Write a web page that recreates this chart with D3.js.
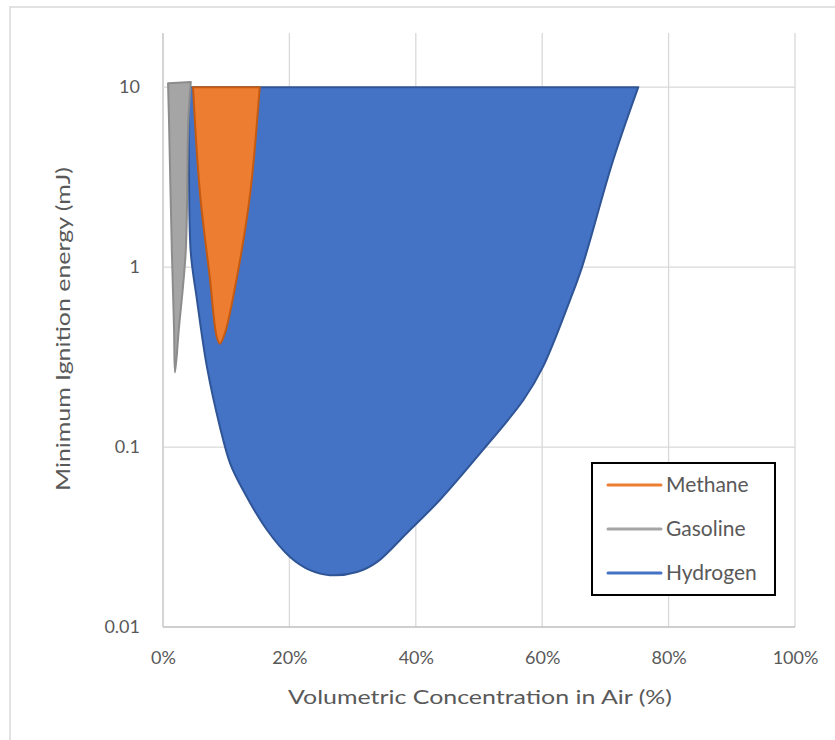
<!DOCTYPE html>
<html>
<head>
<meta charset="utf-8">
<script src="https://cdn.jsdelivr.net/npm/d3@7"></script>
<style>
  html, body { margin: 0; padding: 0; background: #fff; }
  svg { display: block; }
  text { font-family: Lato, "Liberation Sans", sans-serif; fill: #595959; }
</style>
</head>
<body>
<svg id="chart" width="835" height="740"></svg>
<script>
// Flammability envelopes: volumetric fraction in air vs. minimum ignition energy (mJ)
const hydrogenX = [0.040, 0.041, 0.044, 0.0538, 0.0696, 0.0902, 0.106, 0.1266, 0.1646, 0.201, 0.2326, 0.2642, 0.307, 0.339, 0.386, 0.438, 0.506, 0.570, 0.601, 0.644, 0.663, 0.712, 0.752];
const hydrogenY = [10, 3.5, 1.2, 0.656, 0.278, 0.129, 0.0815, 0.0577, 0.0346, 0.0245, 0.0207, 0.0194, 0.0202, 0.0230, 0.0333, 0.0508, 0.0962, 0.182, 0.278, 0.656, 1.0, 3.9, 10];

const gasolineX = [0.008, 0.0095, 0.014, 0.0175, 0.019, 0.025, 0.036, 0.040, 0.044];
const gasolineY = [10.5, 6.5, 1.23, 0.45, 0.26, 0.45, 1.23, 6.5, 10.7];

const methaneX = [0.0475, 0.0585, 0.074, 0.085, 0.090, 0.098, 0.117, 0.138, 0.153];
const methaneY = [10, 2.58, 0.88, 0.41, 0.375, 0.43, 0.88, 2.58, 10];

const xTicks = [0, 0.2, 0.4, 0.6, 0.8, 1.0];
const yTicks = [0.01, 0.1, 1, 10];
const legendNames = ["Methane", "Gasoline", "Hydrogen"];
const legendColors = ["#ED7D31", "#A5A5A5", "#4472C4"];

const svg = d3.select("#chart");
const FONT = 'Lato, "Liberation Sans", sans-serif';

// outer chart frame
svg.append("rect")
  .attr("x", 10).attr("y", 7)
  .attr("width", 840).attr("height", 760)
  .attr("fill", "none").attr("stroke", "#d9d9d9").attr("stroke-width", 1.5);

const x = d3.scaleLinear().domain([0, 1]).range([163, 795]);
const y = d3.scaleLog().domain([0.01, 20]).range([627, 33]);

const grid = svg.append("g");
// vertical gridlines
grid.selectAll("line.vx").data(xTicks).join("line")
  .attr("x1", d => x(d)).attr("x2", d => x(d))
  .attr("y1", y(20)).attr("y2", y(0.01))
  .attr("stroke", d => d === 0 ? "#bfbfbf" : "#d9d9d9").attr("stroke-width", 1.3);
// horizontal gridlines
grid.selectAll("line.hy").data(yTicks).join("line")
  .attr("x1", x(0)).attr("x2", x(1))
  .attr("y1", d => y(d)).attr("y2", d => y(d))
  .attr("stroke", d => d === 0.01 ? "#bfbfbf" : "#d9d9d9").attr("stroke-width", 1.3);

// axes via d3 axis generators (domain and ticks hidden, labels kept)
const xAxis = svg.append("g")
  .attr("transform", `translate(0,${y(0.01)})`)
  .call(d3.axisBottom(x).tickValues(xTicks).tickFormat(d3.format(".0%")).tickSize(0).tickPadding(24));
xAxis.select(".domain").remove();
xAxis.selectAll("text").style("font-size", "18px").style("fill", "#595959").style("font-family", FONT);

const yAxis = svg.append("g")
  .attr("transform", `translate(${x(0)},0)`)
  .call(d3.axisLeft(y).tickValues(yTicks).tickFormat(d => String(d)).tickSize(0).tickPadding(23));
yAxis.select(".domain").remove();
yAxis.selectAll("text").style("font-size", "18px").style("fill", "#595959").style("font-family", FONT);

// area shapes
const shape = (xs, ys) => {
  const pts = xs.map((v, i) => [x(v), y(ys[i])]);
  return d3.line().curve(d3.curveCatmullRom.alpha(0.5))(pts) + "Z";
};

svg.append("path").attr("d", shape(hydrogenX, hydrogenY))
  .attr("fill", "#4472C4").attr("stroke", "#2F5597").attr("stroke-width", 2).attr("stroke-linejoin", "round");
svg.append("path").attr("d", shape(gasolineX, gasolineY))
  .attr("fill", "#A5A5A5").attr("stroke", "#8C8C8C").attr("stroke-width", 2).attr("stroke-linejoin", "round");
svg.append("path").attr("d", shape(methaneX, methaneY))
  .attr("fill", "#ED7D31").attr("stroke", "#C55A11").attr("stroke-width", 2).attr("stroke-linejoin", "round");

// axis titles
svg.append("text")
  .attr("x", 480).attr("y", 704)
  .attr("text-anchor", "middle")
  .style("font-size", "20px")
  .attr("textLength", 384).attr("lengthAdjust", "spacingAndGlyphs")
  .text("Volumetric Concentration in Air (%)");

svg.append("text")
  .attr("transform", "translate(70,329) rotate(-90)")
  .attr("text-anchor", "middle")
  .style("font-size", "20px")
  .attr("textLength", 324).attr("lengthAdjust", "spacingAndGlyphs")
  .text("Minimum Ignition energy (mJ)");

// legend
const lg = svg.append("g");
lg.append("rect")
  .attr("x", 592).attr("y", 463).attr("width", 183).attr("height", 132)
  .attr("fill", "#fff").attr("stroke", "#000").attr("stroke-width", 2);
const items = lg.selectAll("g.item").data(legendNames).join("g")
  .attr("transform", (d, i) => `translate(0,${485 + i * 44})`);
items.append("line")
  .attr("x1", 608).attr("x2", 661).attr("y1", 0).attr("y2", 0)
  .attr("stroke", (d, i) => legendColors[i]).attr("stroke-width", 3).attr("stroke-linecap", "round");
items.append("text")
  .attr("x", 666).attr("y", 0).attr("dy", "0.35em")
  .style("font-size", "21px")
  .text(d => d);
</script>
</body>
</html>
